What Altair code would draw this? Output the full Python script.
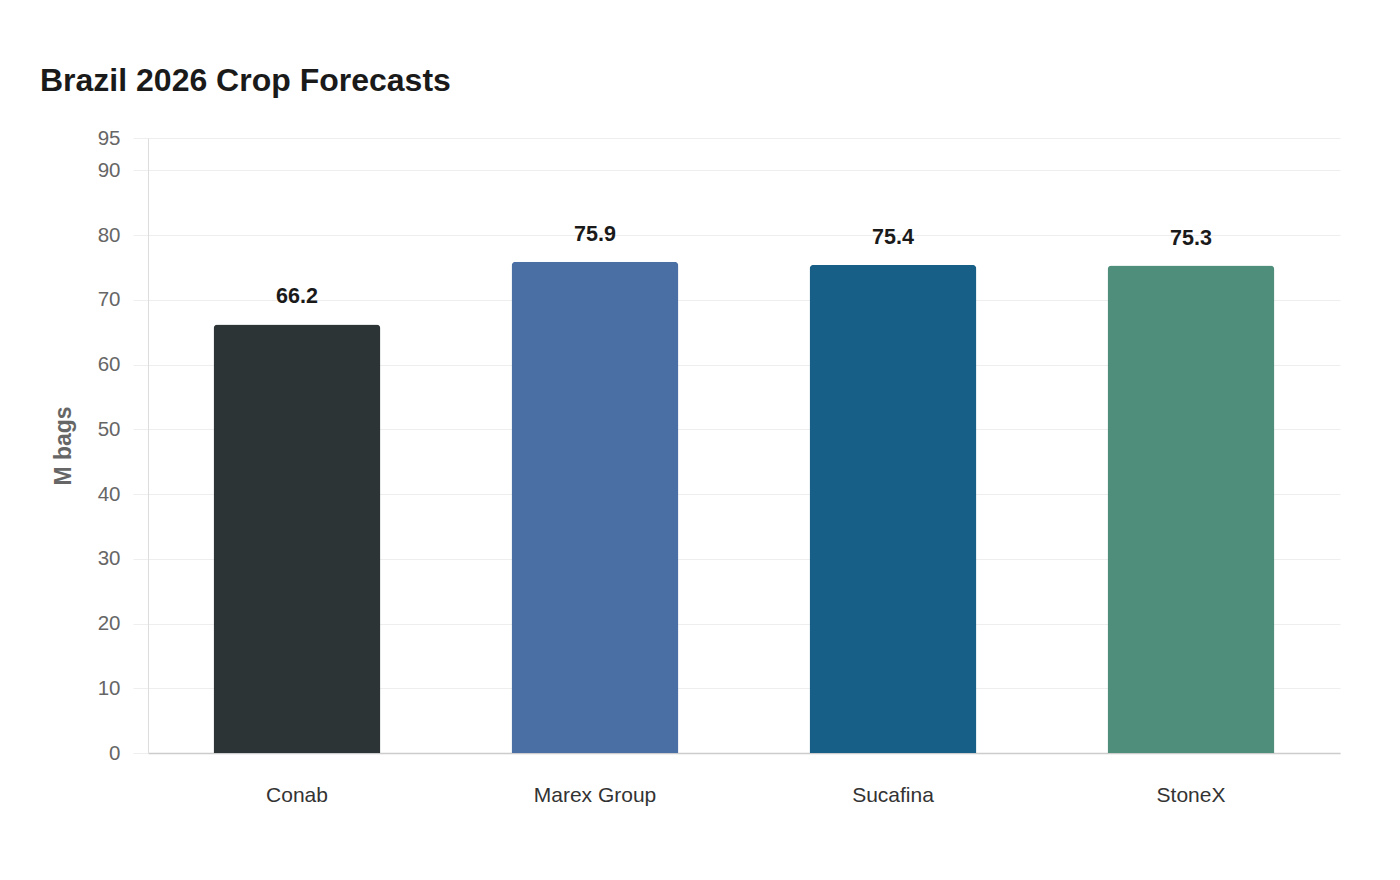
import altair as alt
import pandas as pd

sources = ["Conab", "Marex Group", "Sucafina", "StoneX"]
values = [66.2, 75.9, 75.4, 75.3]
colors = ["#2d3436", "#4a6fa5", "#175f87", "#4e8e7a"]
y_ticks = [0, 10, 20, 30, 40, 50, 60, 70, 80, 90, 95]

df = pd.DataFrame({"source": sources, "value": values})
FONT = "Liberation Sans"

x = alt.X("source:N", sort=sources, title=None,
          scale=alt.Scale(paddingInner=0.44, paddingOuter=0.22),
          axis=alt.Axis(labelAngle=0, ticks=False, labelPadding=31, labelFontSize=21,
                        labelColor="#333333", labelFont=FONT, domainColor="#cccccc",
                        domainWidth=1.5, grid=False))
y = alt.Y("value:Q", title="M bags",
          scale=alt.Scale(domain=[0, 95], nice=False),
          axis=alt.Axis(values=y_ticks, tickSize=15, tickColor="#eeeeee", labelPadding=13,
                        labelFontSize=20.5, labelColor="#666666", labelFont=FONT,
                        gridColor="#eeeeee", domainColor="#dddddd", titleFont=FONT,
                        titleFontSize=23, titleFontWeight="bold", titleColor="#666666",
                        titlePadding=22))

bars = alt.Chart(df).mark_bar(cornerRadiusTopLeft=4, cornerRadiusTopRight=4).encode(
    x=x, y=y,
    color=alt.Color("source:N", scale=alt.Scale(domain=sources, range=colors), legend=None),
)
labels = alt.Chart(df).mark_text(dy=-21, baseline="alphabetic", fontSize=21.5,
                                 fontWeight="bold", color="#1a1a1a", font=FONT).encode(
    x=alt.X("source:N", sort=sources), y="value:Q", text=alt.Text("value:Q", format=".1f"))

chart = (bars + labels).properties(
    width=1192, height=615,
    title=alt.TitleParams("Brazil 2026 Crop Forecasts", anchor="start", frame="group",
                          fontSize=32, fontWeight="bold", color="#1a1a1a", font=FONT,
                          dx=-108, offset=30),
    padding={"left": 140, "top": 130, "right": 52, "bottom": 100},
    autosize=alt.AutoSizeParams(type="none"),
).configure_view(stroke=None)

chart.save("out.html", embed_options={"renderer": "svg", "actions": False})
